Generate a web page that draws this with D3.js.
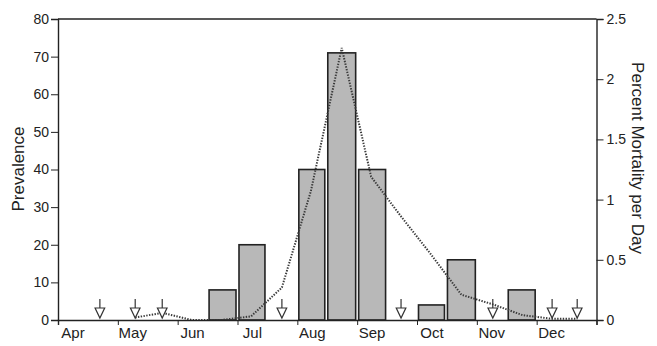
<!DOCTYPE html>
<html>
<head>
<meta charset="utf-8">
<script src="https://cdn.jsdelivr.net/npm/d3@7"></script>
<style>
  html, body { margin: 0; padding: 0; background: #fff; }
  svg { display: block; font-family: "Liberation Sans", Arial, Helvetica, sans-serif; }
</style>
</head>
<body>
<svg id="chart" width="657" height="346"></svg>
<script>
// ---------------- data ----------------
const monthLabels = ["Apr", "May", "Jun", "Jul", "Aug", "Sep", "Oct", "Nov", "Dec"];
const prevTicks = [0, 10, 20, 30, 40, 50, 60, 70, 80];
const mortTicks = [0, 0.5, 1, 1.5, 2, 2.5];

// half-month sampling periods with non-zero prevalence
const barStart = ["06-16", "07-01", "08-01", "08-16", "09-01", "10-01", "10-16", "11-16"];
const barEnd   = ["07-01", "07-16", "08-16", "09-01", "09-16", "10-16", "11-01", "12-01"];
const prevalence = [8, 20, 40, 71, 40, 4, 16, 8];

// sampling dates with zero prevalence (arrows)
const zeroDates = ["04-22", "05-10", "05-24", "07-24", "09-23", "11-09", "12-09", "12-22"];

// percent mortality per day
const mortDates = ["05-10", "05-24", "06-08", "06-23", "07-08", "07-24", "08-08", "08-24",
                   "09-08", "09-23", "10-08", "10-24", "11-09", "11-24", "12-09", "12-22"];
const mortality = [0.02, 0.06, 0.0, 0.0, 0.03, 0.27, 1.07, 2.26,
                   1.19, 0.86, 0.55, 0.21, 0.13, 0.04, 0.01, 0.01];

// ---------------- helpers ----------------
const daysIn = [31, 28, 31, 30, 31, 30, 31, 31, 30, 31, 30, 31];
function toMonth(s) { // months since Apr 1
  const [m, d] = s.split("-").map(Number);
  return (m - 4) + (d - 1) / daysIn[m - 1];
}

// ---------------- layout ----------------
const L = 58, R = 596.5, T = 19, B = 320;
const svg = d3.select("#chart");
const x = d3.scaleLinear().domain([0, 9]).range([L, R]);
const yP = d3.scaleLinear().domain([0, 80]).range([B, T]);
const yM = d3.scaleLinear().domain([0, 2.5]).range([B, T]);
const ink = "#222";

// bars
svg.append("g").selectAll("rect").data(prevalence).join("rect")
  .attr("x", (d, i) => x(toMonth(barStart[i])) + 1.5)
  .attr("width", (d, i) => x(toMonth(barEnd[i])) - x(toMonth(barStart[i])) - 3)
  .attr("y", d => yP(d))
  .attr("height", d => yP(0) - yP(d))
  .attr("fill", "#b8b8b8")
  .attr("stroke", ink)
  .attr("stroke-width", 1.6);

// mortality line
const line = d3.line()
  .x((d, i) => x(toMonth(mortDates[i])))
  .y(d => yM(d))
  .curve(d3.curveLinear);
svg.append("path")
  .attr("d", line(mortality))
  .attr("fill", "none")
  .attr("stroke", "#3a3a3a")
  .attr("stroke-width", 2)
  .attr("stroke-dasharray", "1.4,1.4");

// arrows for zero-prevalence samples
const ag = svg.append("g").attr("stroke", "#333").attr("stroke-width", 1.2);
zeroDates.forEach(s => {
  const cx = x(toMonth(s));
  const tip = yP(0) - 2;
  ag.append("line").attr("x1", cx).attr("x2", cx).attr("y1", tip - 19).attr("y2", tip - 10);
  ag.append("path")
    .attr("d", `M${cx - 4.8},${tip - 10}L${cx + 4.8},${tip - 10}L${cx},${tip}Z`)
    .attr("fill", "#fff");
});

// frame: top border, axes
svg.append("line").attr("x1", L).attr("x2", R).attr("y1", T).attr("y2", T)
  .attr("stroke", ink).attr("stroke-width", 1.4);

const leftAxis = d3.axisLeft(yP).tickValues(prevTicks).tickSize(7).tickPadding(2);
const gl = svg.append("g").attr("transform", `translate(${L},0)`).call(leftAxis);
const rightAxis = d3.axisRight(yM).tickValues(mortTicks).tickSize(7).tickPadding(3)
  .tickFormat(d3.format("~g"));
const gr = svg.append("g").attr("transform", `translate(${R},0)`).call(rightAxis);
const bottomAxis = d3.axisBottom(x).tickValues(d3.range(0, 10)).tickSize(5).tickFormat("");
const gb = svg.append("g").attr("transform", `translate(0,${B})`).call(bottomAxis);

[gl, gr, gb].forEach(g => {
  g.select(".domain").attr("stroke", ink).attr("stroke-width", 1.4);
  g.selectAll(".tick line").attr("stroke", ink).attr("stroke-width", 1);
  g.selectAll(".tick text").attr("fill", "#222")
    .style("font-family", "'Liberation Sans', Arial, sans-serif").style("font-size", "14px");
});

// month labels
svg.append("g").selectAll("text").data(monthLabels).join("text")
  .attr("x", (d, i) => x(i + 0.25))
  .attr("y", 338)
  .attr("text-anchor", "middle")
  .style("font-size", "15px")
  .attr("fill", "#222")
  .text(d => d);

// axis titles
svg.append("text")
  .attr("transform", "translate(24,169) rotate(-90)")
  .attr("text-anchor", "middle")
  .style("font-size", "17px")
  .attr("fill", "#222")
  .text("Prevalence");
svg.append("text")
  .attr("transform", "translate(632,158) rotate(90)")
  .attr("text-anchor", "middle")
  .style("font-size", "17px")
  .attr("fill", "#222")
  .text("Percent Mortality per Day");
</script>
</body>
</html>
